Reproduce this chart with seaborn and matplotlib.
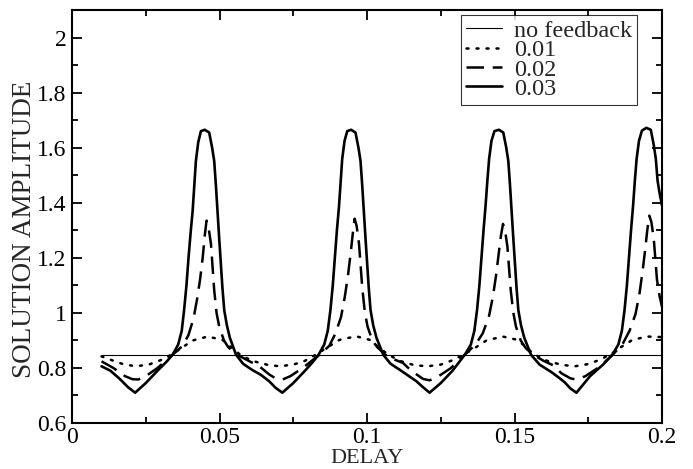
import matplotlib
matplotlib.use("Agg")
import matplotlib.pyplot as plt
import seaborn as sns
from matplotlib.ticker import MultipleLocator, FixedLocator

# ---------------- data ----------------
x_nofb = [0.0100, 0.0500, 0.1000, 0.1500, 0.2000]
y_nofb = [0.848, 0.848, 0.848, 0.848, 0.848]

x_001 = [0.0100, 0.0130, 0.0170, 0.0214, 0.0260, 0.0300, 0.0340, 0.0370, 0.0410, 0.0460,
         0.0510, 0.0540, 0.0570, 0.0610, 0.0660, 0.0703, 0.0750, 0.0790, 0.0830, 0.0861,
         0.0907, 0.0963, 0.1009, 0.1043, 0.1070, 0.1110, 0.1160, 0.1205, 0.1250, 0.1290,
         0.1330, 0.1365, 0.1405, 0.1460, 0.1510, 0.1540, 0.1565, 0.1610, 0.1660, 0.1705,
         0.1750, 0.1790, 0.1830, 0.1860, 0.1900, 0.1950, 0.2000]
y_001 = [0.842, 0.830, 0.815, 0.806, 0.812, 0.828, 0.850, 0.872, 0.900, 0.914,
         0.902, 0.875, 0.848, 0.826, 0.812, 0.806, 0.812, 0.826, 0.850, 0.872,
         0.902, 0.915, 0.902, 0.872, 0.850, 0.826, 0.810, 0.806, 0.812, 0.828,
         0.850, 0.872, 0.900, 0.914, 0.902, 0.875, 0.850, 0.826, 0.811, 0.806,
         0.814, 0.830, 0.852, 0.875, 0.902, 0.914, 0.912]

x_002 = [0.0100, 0.0140, 0.0180, 0.0205, 0.0225, 0.0250, 0.0290, 0.0341, 0.0375, 0.0395,
         0.0412, 0.0424, 0.0434, 0.0443, 0.0450, 0.0456, 0.0463, 0.0471, 0.0482, 0.0490,
         0.0499, 0.0515, 0.0530, 0.0560, 0.0600, 0.0635, 0.0669, 0.0690, 0.0714, 0.0740,
         0.0782, 0.0839, 0.0872, 0.0893, 0.0912, 0.0925, 0.0936, 0.0945, 0.0952, 0.0958,
         0.0965, 0.0973, 0.0984, 0.0993, 0.1002, 0.1018, 0.1035, 0.1062, 0.1090, 0.1122,
         0.1150, 0.1190, 0.1212, 0.1240, 0.1285, 0.1331, 0.1368, 0.1392, 0.1413, 0.1427,
         0.1438, 0.1447, 0.1454, 0.1461, 0.1468, 0.1476, 0.1487, 0.1496, 0.1505, 0.1521,
         0.1538, 0.1563, 0.1600, 0.1630, 0.1660, 0.1690, 0.1710, 0.1740, 0.1790, 0.1835,
         0.1868, 0.1890, 0.1910, 0.1923, 0.1934, 0.1943, 0.1950, 0.1957, 0.1964, 0.1972,
         0.1983, 0.1992, 0.2000]
y_002 = [0.824, 0.800, 0.770, 0.759, 0.758, 0.770, 0.800, 0.848, 0.880, 0.920,
         0.980, 1.050, 1.120, 1.200, 1.280, 1.335, 1.310, 1.251, 1.083, 1.000,
         0.950, 0.900, 0.875, 0.848, 0.825, 0.806, 0.776, 0.762, 0.758, 0.770,
         0.800, 0.848, 0.880, 0.925, 0.985, 1.060, 1.140, 1.220, 1.290, 1.342,
         1.315, 1.250, 1.090, 1.000, 0.950, 0.900, 0.875, 0.848, 0.832, 0.818,
         0.790, 0.760, 0.755, 0.768, 0.800, 0.848, 0.885, 0.925, 0.985, 1.060,
         1.140, 1.220, 1.280, 1.323, 1.300, 1.240, 1.085, 1.000, 0.950, 0.900,
         0.872, 0.848, 0.825, 0.810, 0.780, 0.762, 0.758, 0.770, 0.805, 0.850,
         0.890, 0.935, 0.995, 1.065, 1.150, 1.230, 1.300, 1.353, 1.330, 1.270,
         1.120, 1.060, 1.022]

x_003 = [0.0100, 0.0130, 0.0160, 0.0190, 0.0214, 0.0250, 0.0290, 0.0320, 0.0341, 0.0360,
         0.0372, 0.0380, 0.0388, 0.0395, 0.0402, 0.0409, 0.0415, 0.0420, 0.0428, 0.0437,
         0.0450, 0.0465, 0.0475, 0.0482, 0.0488, 0.0493, 0.0499, 0.0505, 0.0510, 0.0516,
         0.0525, 0.0535, 0.0556, 0.0580, 0.0612, 0.0640, 0.0668, 0.0690, 0.0713,
         0.0750, 0.0790, 0.0815, 0.0836, 0.0855, 0.0867, 0.0876, 0.0884, 0.0891, 0.0898,
         0.0905, 0.0911, 0.0916, 0.0924, 0.0933, 0.0946, 0.0961, 0.0971, 0.0978, 0.0984,
         0.0989, 0.0995, 0.1001, 0.1006, 0.1012, 0.1021, 0.1032, 0.1055, 0.1080, 0.1110,
         0.1140, 0.1167, 0.1190, 0.1212,
         0.1250, 0.1290, 0.1313, 0.1333, 0.1352, 0.1364, 0.1373, 0.1381, 0.1388, 0.1395,
         0.1402, 0.1408, 0.1414, 0.1422, 0.1432, 0.1447, 0.1462, 0.1472, 0.1479, 0.1485,
         0.1490, 0.1496, 0.1502, 0.1507, 0.1513, 0.1522, 0.1533, 0.1556, 0.1585, 0.1625,
         0.1650, 0.1670, 0.1690, 0.1710,
         0.1756, 0.1800, 0.1833, 0.1852, 0.1864, 0.1873, 0.1881, 0.1888, 0.1895, 0.1902,
         0.1908, 0.1914, 0.1922, 0.1932, 0.1947, 0.1962, 0.1972, 0.1979, 0.1985, 0.1991,
         0.2000]
y_003 = [0.806, 0.790, 0.762, 0.730, 0.710, 0.745, 0.790, 0.822, 0.848, 0.885,
         0.935, 1.010, 1.100, 1.200, 1.290, 1.371, 1.470, 1.552, 1.620, 1.660,
         1.665, 1.655, 1.600, 1.552, 1.460, 1.371, 1.270, 1.170, 1.090, 1.010,
         0.955, 0.910, 0.848, 0.815, 0.792, 0.775, 0.752, 0.728, 0.710,
         0.745, 0.790, 0.820, 0.848, 0.885, 0.935, 1.010, 1.100, 1.200, 1.300,
         1.385, 1.480, 1.560, 1.625, 1.660, 1.665, 1.655, 1.600, 1.552, 1.460,
         1.371, 1.270, 1.170, 1.090, 1.010, 0.955, 0.910, 0.848, 0.815, 0.794,
         0.772, 0.752, 0.730, 0.710,
         0.745, 0.790, 0.822, 0.850, 0.885, 0.935, 1.010, 1.100, 1.200, 1.300,
         1.390, 1.480, 1.560, 1.625, 1.660, 1.665, 1.655, 1.600, 1.552, 1.460,
         1.371, 1.270, 1.170, 1.090, 1.010, 0.955, 0.910, 0.848, 0.812, 0.785,
         0.765, 0.748, 0.725, 0.710,
         0.770, 0.812, 0.850, 0.885, 0.935, 1.010, 1.100, 1.200, 1.300, 1.390,
         1.480, 1.560, 1.625, 1.662, 1.672, 1.665, 1.610, 1.560, 1.480, 1.440,
         1.390]

labels = ["no feedback", "0.01", "0.02", "0.03"]
x_ticks = [0, 0.05, 0.1, 0.15, 0.2]
x_ticklabels = ["0", "0.05", "0.1", "0.15", "0.2"]
y_ticks = [0.6, 0.8, 1.0, 1.2, 1.4, 1.6, 1.8, 2.0]
y_ticklabels = ["0.6", "0.8", "1", "1.2", "1.4", "1.6", "1.8", "2"]

# ---------------- style ----------------
sns.set_style("ticks")
plt.rcParams["font.family"] = ["Liberation Serif", "DejaVu Serif"]

fig = plt.figure(figsize=(6.93, 4.69), dpi=100)
ax = fig.add_axes([72 / 693, 46 / 469, 590 / 693, 413 / 469])

sns.lineplot(x=x_nofb, y=y_nofb, ax=ax, color="black", lw=0.8, label=labels[0],
             estimator=None, sort=False)
sns.lineplot(x=x_001, y=y_001, ax=ax, color="black", lw=1.8, label=labels[1],
             estimator=None, sort=False)
sns.lineplot(x=x_002, y=y_002, ax=ax, color="black", lw=1.8, label=labels[2],
             estimator=None, sort=False)
sns.lineplot(x=x_003, y=y_003, ax=ax, color="black", lw=1.9, label=labels[3],
             estimator=None, sort=False)

lines = ax.get_lines()
lines[1].set_linestyle((0, (0.8, 3.2)))
lines[1].set_dash_capstyle("round")
lines[2].set_linestyle((0, (7, 3.5)))
lines[3].set_linestyle("-")
for ln in lines:
    ln.set_solid_joinstyle("round")

ax.set_xlim(0, 0.2)
ax.set_ylim(0.6, 2.1)
ax.xaxis.set_major_locator(FixedLocator(x_ticks))
ax.set_xticklabels(x_ticklabels)
ax.yaxis.set_major_locator(FixedLocator(y_ticks))
ax.set_yticklabels(y_ticklabels)
ax.xaxis.set_minor_locator(MultipleLocator(0.025))
ax.yaxis.set_minor_locator(MultipleLocator(0.1))

ax.tick_params(which="both", direction="in", top=True, right=True, colors="black",
               labelsize=17, width=1.3)
ax.tick_params(which="major", length=7, pad=4)
ax.tick_params(axis="x", which="major", pad=3)
ax.tick_params(which="minor", length=4)
for s in ax.spines.values():
    s.set_linewidth(1.5)
    s.set_color("black")

ax.set_xlabel("DELAY", fontsize=16)
ax.set_ylabel("SOLUTION AMPLITUDE", fontsize=19.5)
ax.xaxis.set_label_coords(0.5, -0.0625)
ax.yaxis.set_label_coords(-0.06, 0.47)

leg = ax.legend(loc="upper right", bbox_to_anchor=(0.958, 0.988), borderaxespad=0,
                fontsize=17.5, frameon=True, fancybox=False, edgecolor="black",
                handlelength=1.5, handletextpad=0.5, labelspacing=-0.11,
                borderpad=0.2)
leg.get_frame().set_linewidth(0.8)

fig.savefig("out.png", dpi=100)
